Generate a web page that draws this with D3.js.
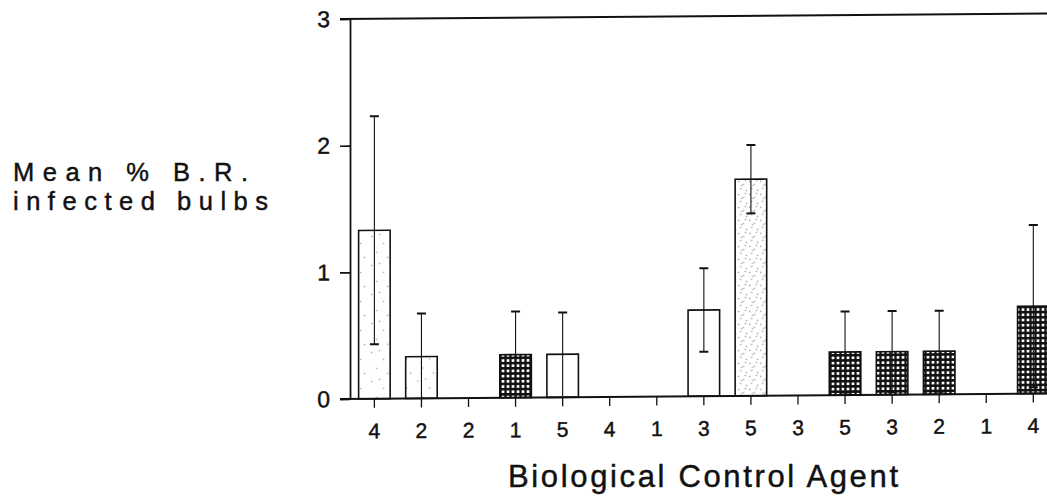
<!DOCTYPE html>
<html>
<head>
<meta charset="utf-8">
<script src="https://cdn.jsdelivr.net/npm/d3@7"></script>
<style>
  html, body { margin: 0; padding: 0; background: #fff; }
  svg { display: block; }
  text { font-family: "Liberation Sans", Arial, Helvetica, sans-serif; fill: #111; stroke: #111; stroke-width: 0.45px; }
</style>
</head>
<body>
<svg id="chart" width="1047" height="499"></svg>
<script>
// ---- data ----
const agents  = ["4","2","2","1","5","4","1","3","5","3","5","3","2","1","4"];
const means   = [1.33, 0.33, 0, 0.34, 0.34, 0, 0, 0.68, 1.71, 0, 0.34, 0.34, 0.34, 0, 0.69];
const errors  = [0.90, 0.34, 0, 0.34, 0.33, 0, 0, 0.33, 0.27, 0, 0.32, 0.32, 0.32, 0, 0.64];
const fills   = ["sparse","sparse","none","grid","none","none","none","none","dots","none","grid","grid","grid","none","grid"];
const yTicks  = [0, 1, 2, 3];
const yTitle  = ["Mean % B.R.", "infected bulbs"];
const xTitle  = "Biological Control Agent";

const svg = d3.select("#chart");
const defs = svg.append("defs");

// patterns
const pGrid = defs.append("pattern").attr("id","grid").attr("patternUnits","userSpaceOnUse")
  .attr("width",5).attr("height",5.2);
pGrid.append("rect").attr("width",5).attr("height",5.2).attr("fill","#111");
pGrid.append("rect").attr("x",1.6).attr("y",1.7).attr("width",2.8).attr("height",2.6).attr("fill","#fff");

const pSparse = defs.append("pattern").attr("id","sparse").attr("patternUnits","userSpaceOnUse")
  .attr("width",23).attr("height",29);
pSparse.append("rect").attr("width",23).attr("height",29).attr("fill","#fff");
[[3,4],[15,11],[8,20],[19,25],[11,2]].forEach(([cx,cy]) =>
  pSparse.append("rect").attr("x",cx).attr("y",cy).attr("width",1.2).attr("height",1.2).attr("fill","#888"));

const pDots = defs.append("pattern").attr("id","dots").attr("patternUnits","userSpaceOnUse")
  .attr("width",11).attr("height",13);
pDots.append("rect").attr("width",11).attr("height",13).attr("fill","#fff");
[[1,2],[6,5],[3,9],[9,11],[8,1],[4,6]].forEach(([cx,cy]) =>
  pDots.append("rect").attr("x",cx).attr("y",cy).attr("width",1.2).attr("height",1.2).attr("fill","#888"));

const fillOf = f => f === "none" ? "#fff" : `url(#${f})`;

// geometry
const x0 = 350, yBase = 399, yTop = 19;
const x = d3.scaleBand().domain(d3.range(agents.length))
  .range([x0, 1057.7]).paddingInner(0.33).paddingOuter(0.183);
const y = d3.scaleLinear().domain([0, 3]).range([yBase, yTop]);

// slight scan skew
const g = svg.append("g")
  .attr("transform", `translate(${x0},${yBase}) skewY(-0.46) translate(${-x0},${-yBase})`);

// bars
g.selectAll("rect.bar").data(means.map((m,i)=>({m,i}))).enter()
  .filter(d => d.m > 0)
  .append("rect").attr("class","bar")
  .attr("x", d => x(d.i)).attr("width", x.bandwidth())
  .attr("y", d => y(d.m)).attr("height", d => y(0) - y(d.m))
  .attr("fill", d => fillOf(fills[d.i]))
  .attr("stroke", "#111").attr("stroke-width", 1.6);

// error bars
const eb = g.selectAll("g.err").data(means.map((m,i)=>({m,e:errors[i],i}))).enter()
  .filter(d => d.e > 0)
  .append("g").attr("class","err");
eb.append("line")
  .attr("x1", d => x(d.i) + x.bandwidth()/2).attr("x2", d => x(d.i) + x.bandwidth()/2)
  .attr("y1", d => y(Math.max(0, d.m - d.e))).attr("y2", d => y(d.m + d.e))
  .attr("stroke","#111").attr("stroke-width",1.1);
eb.append("line")
  .attr("x1", d => x(d.i) + x.bandwidth()/2 - 4.5).attr("x2", d => x(d.i) + x.bandwidth()/2 + 4.5)
  .attr("y1", d => y(d.m + d.e)).attr("y2", d => y(d.m + d.e))
  .attr("stroke","#111").attr("stroke-width",2);
eb.filter(d => d.m - d.e > 0.02).append("line")
  .attr("x1", d => x(d.i) + x.bandwidth()/2 - 4.5).attr("x2", d => x(d.i) + x.bandwidth()/2 + 4.5)
  .attr("y1", d => y(d.m - d.e)).attr("y2", d => y(d.m - d.e))
  .attr("stroke","#111").attr("stroke-width",2);

// frame lines: baseline and top line
g.append("line").attr("x1", 340).attr("x2", 1060).attr("y1", y(0)).attr("y2", y(0))
  .attr("stroke","#111").attr("stroke-width",2);
g.append("line").attr("x1", 340).attr("x2", 1060).attr("y1", y(3)).attr("y2", y(3))
  .attr("stroke","#111").attr("stroke-width",2);

// y axis
const yAxis = g.append("g").attr("transform", `translate(${x0},0)`)
  .call(d3.axisLeft(y).tickValues(yTicks).tickFormat(d3.format("d")).tickSize(10).tickSizeOuter(0).tickPadding(10));
yAxis.select(".domain").attr("stroke","#111").attr("stroke-width",1.8);
yAxis.selectAll(".tick line").attr("stroke","#111").attr("stroke-width",1.6);
yAxis.selectAll(".tick text").style("font-size","23px").style("font-family","'Liberation Sans', Arial, sans-serif").attr("fill","#111");

// x axis
const xAxis = g.append("g").attr("transform", `translate(0,${yBase})`)
  .call(d3.axisBottom(x).tickFormat(i => agents[i]).tickSize(9).tickSizeOuter(0).tickPadding(15.6));
xAxis.select(".domain").remove();
xAxis.selectAll(".tick line").attr("stroke","#111").attr("stroke-width",1.3);
xAxis.selectAll(".tick text").style("font-size","21px").style("font-family","'Liberation Sans', Arial, sans-serif").attr("fill","#111");

// titles
svg.append("text").attr("x", 13).attr("y", 181).attr("textLength", 235).attr("lengthAdjust","spacing")
  .style("font-size","25.5px").text(yTitle[0]);
svg.append("text").attr("x", 13).attr("y", 210).attr("textLength", 255).attr("lengthAdjust","spacing")
  .style("font-size","25.5px").text(yTitle[1]);
svg.append("text").attr("x", 508).attr("y", 487).attr("textLength", 390).attr("lengthAdjust","spacing")
  .style("font-size","31px").text(xTitle);
</script>
</body>
</html>
